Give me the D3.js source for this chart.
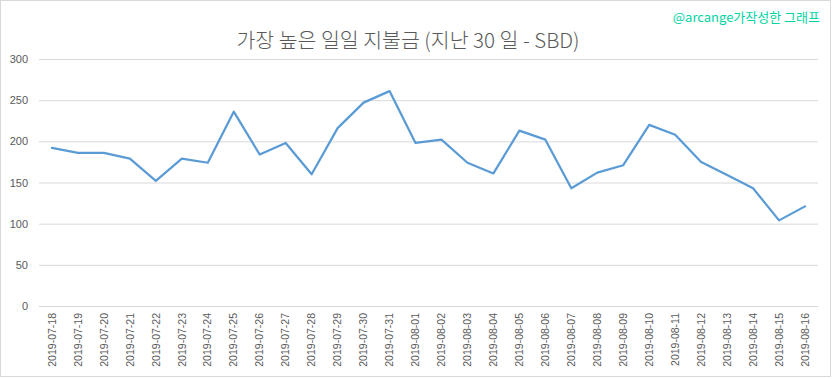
<!DOCTYPE html>
<html>
<head>
<meta charset="utf-8">
<script src="https://cdn.jsdelivr.net/npm/d3@7"></script>
<style>
  body { margin: 0; background: #fff; }
  svg { display: block; }
</style>
</head>
<body>
<div id="chart"></div>
<script>
// data
const dates = ["2019-07-18","2019-07-19","2019-07-20","2019-07-21","2019-07-22","2019-07-23","2019-07-24",
  "2019-07-25","2019-07-26","2019-07-27","2019-07-28","2019-07-29","2019-07-30","2019-07-31",
  "2019-08-01","2019-08-02","2019-08-03","2019-08-04","2019-08-05","2019-08-06","2019-08-07",
  "2019-08-08","2019-08-09","2019-08-10","2019-08-11","2019-08-12","2019-08-13","2019-08-14",
  "2019-08-15","2019-08-16"];
const payouts = [192, 186, 186, 179, 152, 179, 174, 236, 184, 198, 160, 216, 247, 261,
  198, 202, 174, 161, 213, 202, 143, 162, 171, 220, 208, 175, 159, 143, 104, 121];
const yTicks = [0, 50, 100, 150, 200, 250, 300];

const W = 833, H = 379;
const margin = {top: 59, right: 15, bottom: 73, left: 39};
const width = 818 - margin.left,
    height = 306 - margin.top;

const svg = d3.select("#chart").append("svg")
    .attr("width", W)
    .attr("height", H);

// outer frame
svg.append("rect")
    .attr("x", 0.5).attr("y", 0.5)
    .attr("width", 830).attr("height", 376)
    .attr("fill", "#fff")
    .attr("stroke", "#d9d9d9");

const g = svg.append("g")
    .attr("transform", `translate(${margin.left},${margin.top})`);

const x = d3.scaleBand().domain(dates).range([0, width]);
const y = d3.scaleLinear().domain([0, 300]).range([height, 0]);

// gridlines + y labels
const yAxis = g.append("g")
    .call(d3.axisLeft(y).tickValues(yTicks).tickSize(-width).tickPadding(11));
yAxis.select(".domain").remove();
yAxis.selectAll("line").attr("stroke", "#d9d9d9");
yAxis.selectAll("text")
    .attr("fill", "#595959")
    .style("font-family", "Liberation Sans, Arial, sans-serif")
    .style("font-size", "11px");

// x axis labels
const xAxis = g.append("g")
    .attr("transform", `translate(0,${height})`)
    .call(d3.axisBottom(x).tickSize(0).tickPadding(0));
xAxis.select(".domain").attr("stroke", "#d9d9d9");
xAxis.selectAll("text")
    .attr("fill", "#595959")
    .style("font-family", "Liberation Sans, Arial, sans-serif")
    .style("font-size", "10.5px")
    .style("text-anchor", "end")
    .attr("transform", "rotate(-90)")
    .attr("x", -7)
    .attr("y", 0)
    .attr("dy", "0.35em");

// line
const line = d3.line()
    .x((d, i) => x(dates[i]) + x.bandwidth() / 2)
    .y(d => y(d));

g.append("path")
    .datum(payouts)
    .attr("fill", "none")
    .attr("stroke", "#5b9bd5")
    .attr("stroke-width", 2.25)
    .attr("stroke-linejoin", "round")
    .attr("stroke-linecap", "round")
    .attr("d", line);

// title
svg.append("text")
    .attr("x", 408)
    .attr("y", 48)
    .attr("text-anchor", "middle")
    .attr("fill", "#595959")
    .style("font-family", "Noto Sans CJK KR, sans-serif")
    .style("font-weight", 300)
    .style("font-size", "20.5px")
    .text("가장 높은 일일 지불금 (지난 30 일 - SBD)");

// watermark
svg.append("text")
    .attr("x", 820)
    .attr("y", 22)
    .attr("text-anchor", "end")
    .attr("fill", "#00d4a4")
    .style("font-family", "Noto Sans CJK KR, sans-serif")
    .style("font-size", "13px")
    .text("@arcange가작성한 그래프");
</script>
</body>
</html>
